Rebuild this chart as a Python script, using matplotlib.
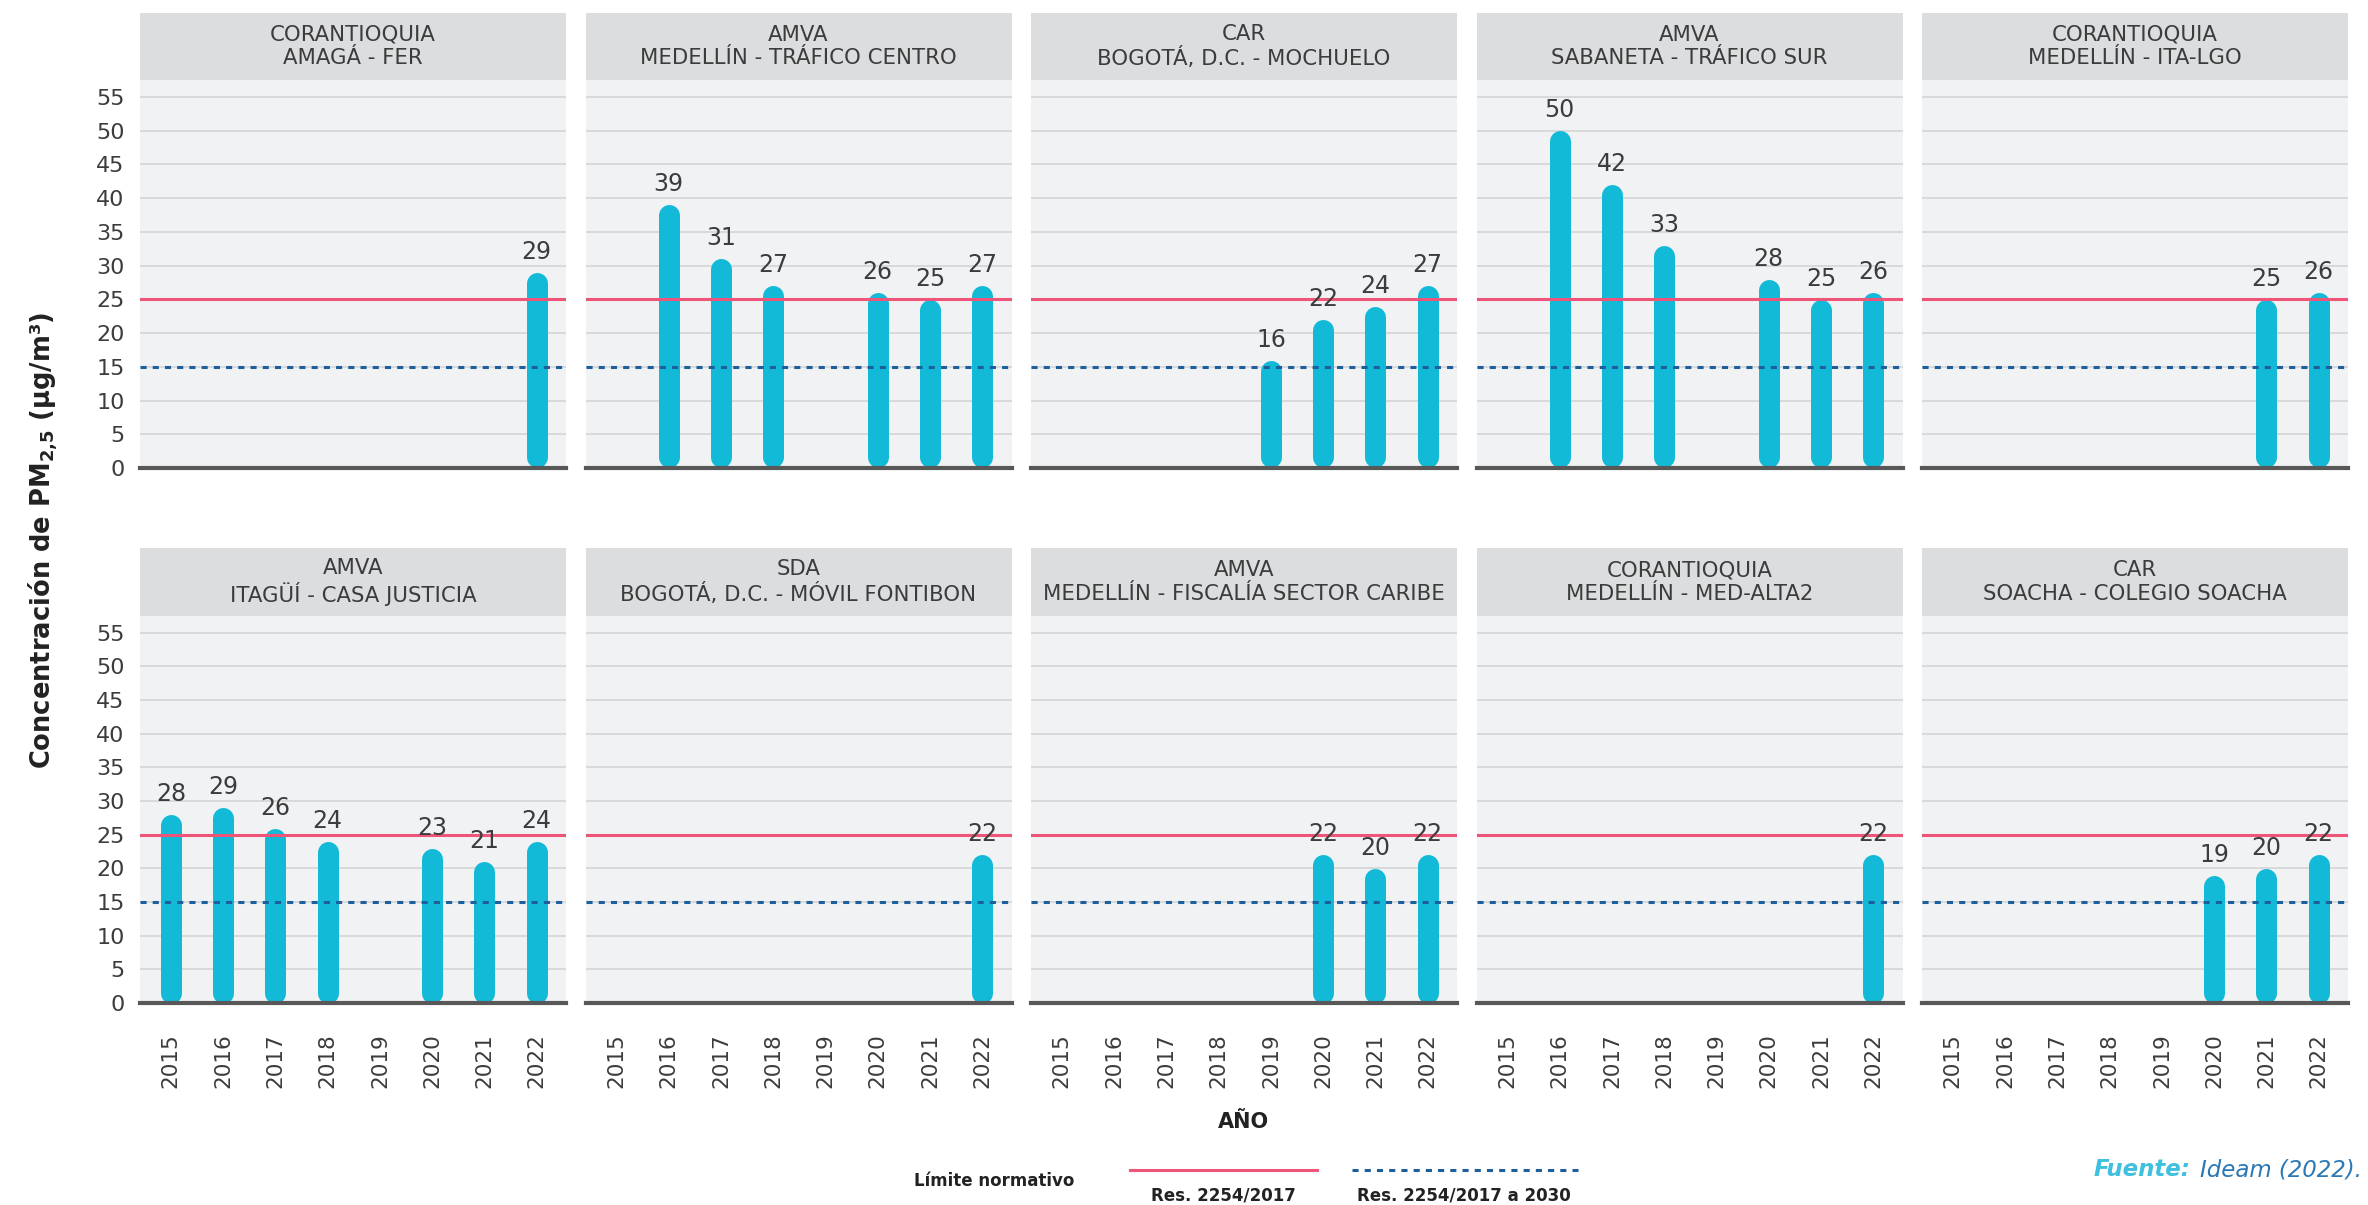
import numpy as np
import matplotlib.pyplot as plt
from matplotlib.lines import Line2D

W, H = 2368, 1205
DPI = 100

years = ['2015', '2016', '2017', '2018', '2019', '2020', '2021', '2022']

# (entidad, estacion) for each panel, row by row
titles = [
    ('CORANTIOQUIA', 'AMAGÁ - FER'),
    ('AMVA', 'MEDELLÍN - TRÁFICO CENTRO'),
    ('CAR', 'BOGOTÁ, D.C. - MOCHUELO'),
    ('AMVA', 'SABANETA - TRÁFICO SUR'),
    ('CORANTIOQUIA', 'MEDELLÍN - ITA-LGO'),
    ('AMVA', 'ITAGÜÍ - CASA JUSTICIA'),
    ('SDA', 'BOGOTÁ, D.C. - MÓVIL FONTIBON'),
    ('AMVA', 'MEDELLÍN - FISCALÍA SECTOR CARIBE'),
    ('CORANTIOQUIA', 'MEDELLÍN - MED-ALTA2'),
    ('CAR', 'SOACHA - COLEGIO SOACHA'),
]

# annual PM2.5 per station (None = no data)
amaga = [None, None, None, None, None, None, None, 29]
trafico_centro = [None, 39, 31, 27, None, 26, 25, 27]
mochuelo = [None, None, None, None, 16, 22, 24, 27]
trafico_sur = [None, 50, 42, 33, None, 28, 25, 26]
ita_lgo = [None, None, None, None, None, None, 25, 26]
casa_justicia = [28, 29, 26, 24, None, 23, 21, 24]
fontibon = [None, None, None, None, None, None, None, 22]
fiscalia = [None, None, None, None, None, 22, 20, 22]
med_alta2 = [None, None, None, None, None, None, None, 22]
soacha = [None, None, None, None, None, 19, 20, 22]

series = [amaga, trafico_centro, mochuelo, trafico_sur, ita_lgo,
          casa_justicia, fontibon, fiscalia, med_alta2, soacha]

limit_2017 = 25
limit_2030 = 15

bar_color = '#12BAD8'
red = '#EF5479'
blue = '#1D5F9C'
txt = '#3C3C3C'

plt.rcParams['font.family'] = ['DejaVu Sans']

fig = plt.figure(figsize=(W / DPI, H / DPI), dpi=DPI)


def fx(px):
    return px / W


def fy(py):
    return 1 - py / H


col_left = [140 + i * 445.5 for i in range(5)]
col_w = 426
rows = [(13, 80, 468), (548, 616, 1003)]  # header top, axes top, axes bottom
ytop = 57.5
bar_px = 21

for k, (vals, (ent, est)) in enumerate(zip(series, titles)):
    r, c = divmod(k, 5)
    htop, atop, abot = rows[r]
    x0 = col_left[c]

    hax = fig.add_axes([fx(x0), fy(atop), fx(col_w), (atop - htop) / H])
    hax.set_facecolor('#DCDDDF')
    hax.set_xticks([])
    hax.set_yticks([])
    for s in hax.spines.values():
        s.set_visible(False)
    hax.text(0.5, 0.5, ent + '\n' + est, ha='center', va='center',
             fontsize=15.3, color=txt, linespacing=1.2, transform=hax.transAxes)

    ax = fig.add_axes([fx(x0), fy(abot), fx(col_w), (abot - atop) / H])
    ax.set_facecolor('#F1F2F4')
    ax.set_xlim(-0.59, 7.56)
    ax.set_ylim(0, ytop)
    for s in ax.spines.values():
        s.set_visible(False)
    ax.set_yticks(np.arange(0, 56, 5))
    ax.yaxis.grid(True, color='#D4D5D7', lw=1.2)
    ax.set_axisbelow(True)
    ax.axhline(0, color='#585858', lw=3, zorder=4, clip_on=False)
    ax.set_xticks(range(len(years)))
    if r == 1:
        ax.set_xticklabels(years, rotation=90, fontsize=15.5, color=txt)
    else:
        ax.set_xticklabels([])
    ax.tick_params(axis='x', length=0, pad=22)
    ax.tick_params(axis='y', length=0, pad=11, labelsize=16, labelcolor=txt)
    if c != 0:
        ax.set_yticklabels([])

    # round-capped bars
    px_per_unit = (abot - atop) / ytop
    rad = bar_px / 2 / px_per_unit
    for i, v in enumerate(vals):
        if v is None:
            continue
        ax.plot([i, i], [rad, v - rad], color=bar_color, lw=bar_px * 72 / DPI,
                solid_capstyle='round', zorder=2)
        ax.text(i, v + 2, str(v), ha='center', va='baseline', fontsize=17,
                color=txt, zorder=6)

    ax.axhline(limit_2017, color=red, lw=2.2, zorder=3)
    ax.axhline(limit_2030, color=blue, lw=2.2, ls=(0, (2, 2)), zorder=3)

fig.text(fx(43), fy(541), r'Concentración de PM$_{\mathbf{2{,}5}}$ (µg/m³)',
         rotation=90, ha='center', va='center', fontsize=18.5,
         fontweight='bold', color='#222222')
fig.text(fx(1243), fy(1122), 'AÑO', ha='center', va='center', fontsize=15,
         fontweight='bold', color='#222222')

# legend
fig.text(fx(994), fy(1181), 'Límite normativo', ha='center', va='center',
         fontsize=12, fontweight='bold', color='#222222')
fig.add_artist(Line2D([fx(1130), fx(1317)], [fy(1170), fy(1170)],
                      color=red, lw=2.2))
fig.text(fx(1223), fy(1195), 'Res. 2254/2017', ha='center', va='center',
         fontsize=12, fontweight='bold', color='#222222')
fig.add_artist(Line2D([fx(1352), fx(1578)], [fy(1170), fy(1170)],
                      color=blue, lw=2.2, ls=(0, (2, 2))))
fig.text(fx(1464), fy(1195), 'Res. 2254/2017 a 2030', ha='center', va='center',
         fontsize=12, fontweight='bold', color='#222222')

fig.text(fx(2190), fy(1170), 'Fuente:', ha='right', va='center', fontsize=16.5,
         fontweight='bold', style='italic', color='#3FC0DE')
fig.text(fx(2200), fy(1170), 'Ideam (2022).', ha='left', va='center',
         fontsize=16.5, style='italic', color='#2B78B5')

fig.savefig('out.png', dpi=DPI)
